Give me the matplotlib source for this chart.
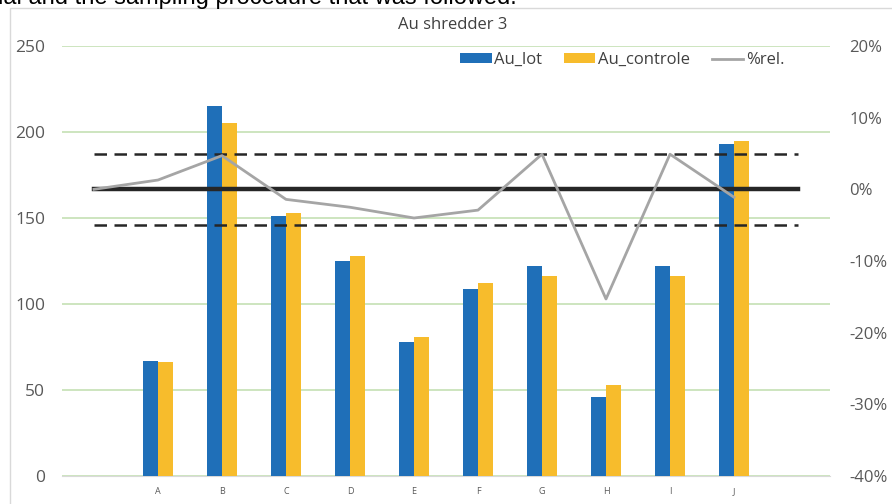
import matplotlib.pyplot as plt
from matplotlib.patches import Rectangle

# data
categories = ['', 'A', 'B', 'C', 'D', 'E', 'F', 'G', 'H', 'I', 'J', '']
au_lot = [67, 215, 151, 125, 78, 109, 122, 46, 122, 193]
au_controle = [66, 205, 153, 128, 81, 112, 116, 53, 116, 195]
rel = [0, 1.3, 4.7, -1.4, -2.5, -4.0, -2.9, 4.9, -15.3, 4.9, -1.1]   # %
upper = [5] * 12
zero = [0] * 12
lower = [-5] * 12
left_ticks = [0, 50, 100, 150, 200, 250]
right_ticks = [-40, -30, -20, -10, 0, 10, 20]

plt.rcParams['font.family'] = ['Open Sans', 'DejaVu Sans']

fig = plt.figure(figsize=(8.92, 5.04), dpi=100)
W, H = 892, 504

# border of the embedded chart + cut-off page text above it
fig.patches.append(Rectangle((10 / W, -0.01), 1, 1 - 8 / H + 0.01, transform=fig.transFigure,
                             fill=False, edgecolor='#d9d9d9', lw=1))
fig.text(-0.002, 1 - 4 / H, 'ial and the sampling procedure that was followed.',
         fontsize=17, family='Liberation Sans', va='baseline', ha='left', color='black')

ax = fig.add_axes([62 / W, 1 - 476 / H, (830 - 62) / W, (476 - 46) / H])
ax2 = ax.twinx()

xs = range(len(categories))
bx = [i + 1 for i in range(len(au_lot))]
w = 0.235
ax.bar([x - w / 2 for x in bx], au_lot, width=w, color='#1f6fb8', label='Au_lot', zorder=3)
ax.bar([x + w / 2 for x in bx], au_controle, width=w, color='#f7bc2c', label='Au_controle', zorder=3)

ax.set_ylim(0, 250)
ax.set_yticks(left_ticks)
ax.set_yticklabels([str(v) for v in left_ticks])
ax.set_xlim(-0.5, len(categories) - 0.5)
ax.set_xticks(list(xs))
ax.set_xticklabels(categories)
ax.grid(axis='y', color='#c5e0b4', lw=1.2, zorder=0)
ax.tick_params(axis='y', length=0, pad=12, labelsize=12.5, labelcolor='#595959')
ax.tick_params(axis='x', length=0, pad=8, labelsize=6.5, labelcolor='#595959')
for s in ['top', 'left', 'right']:
    ax.spines[s].set_visible(False)
ax.spines['bottom'].set_color('#d9d9d9')

ax2.plot(list(xs), upper, color='#262626', lw=1.8, dashes=(5, 3))
ax2.plot(list(xs), lower, color='#262626', lw=1.8, dashes=(5, 3))
ax2.plot(list(xs), zero, color='#262626', lw=3.2)
ax2.plot(range(len(rel)), rel, color='#a5a5a5', lw=2, label='%rel.')
ax2.set_ylim(-40, 20)
ax2.set_yticks(right_ticks)
ax2.set_yticklabels([f'{v}%' for v in right_ticks])
ax2.tick_params(axis='y', length=0, pad=14, labelsize=12, labelcolor='#595959')
for s in ax2.spines.values():
    s.set_visible(False)

h1, l1 = ax.get_legend_handles_labels()
h2, l2 = ax2.get_legend_handles_labels()
ax2.legend(h1 + h2, l1 + l2, loc='center', bbox_to_anchor=(622 / W, 1 - 60 / H),
           bbox_transform=fig.transFigure, ncol=3, frameon=False, fontsize=12,
           labelcolor='#404040', handlelength=1.9, handleheight=0.55, handletextpad=0.15,
           columnspacing=1.3)

fig.text(453 / W, 1 - 25 / H, 'Au shredder 3', ha='center', va='center', fontsize=12, color='#404040')

fig.savefig('out.png', dpi=100)
